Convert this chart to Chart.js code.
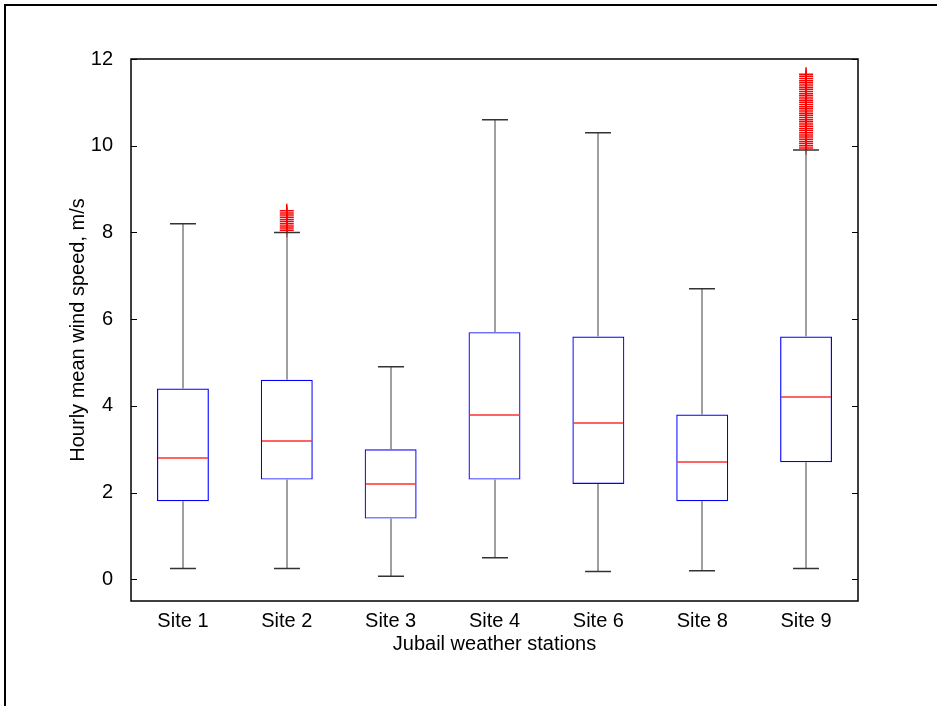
<!DOCTYPE html>
<html>
<head>
<meta charset="utf-8">
<script src="https://cdn.jsdelivr.net/npm/chart.js@4/dist/chart.umd.min.js"></script>
<style>
    body { margin: 0; background: #fff; }
    #moldura { position: absolute; left: 4px; top: 4px; width: 960px; height: 730px; border-left: 2px solid #000; border-top: 2px solid #000; pointer-events: none; }
    canvas { position: absolute; left: 0; top: 0; }
</style>
</head>
<body>
<canvas id="grafico" width="937" height="706"></canvas>
<div id="moldura"></div>
<script>
const sites = ['Site 1', 'Site 2', 'Site 3', 'Site 4', 'Site 6', 'Site 8', 'Site 9'];
const minimo = [0.25, 0.25, 0.07, 0.5, 0.18, 0.2, 0.25];
const quartil1 = [1.8, 2.3, 1.4, 2.3, 2.2, 1.8, 2.7];
const mediana = [2.8, 3.2, 2.2, 3.8, 3.6, 2.7, 4.2];
const quartil3 = [4.4, 4.6, 3.0, 5.7, 5.6, 3.8, 5.6];
const maximo = [8.2, 8.0, 4.9, 10.6, 10.3, 6.7, 9.9];
const outliersSite2 = [8.05, 8.1, 8.15, 8.2, 8.25, 8.3, 8.35, 8.4, 8.45, 8.5];
const outliersSite9 = [9.95, 10.0, 10.05, 10.1, 10.15, 10.2, 10.25, 10.3, 10.35, 10.4, 10.45, 10.5, 10.55, 10.6,
    10.65, 10.7, 10.75, 10.8, 10.85, 10.9, 10.95, 11.0, 11.05, 11.1, 11.15, 11.2, 11.25, 11.3, 11.35, 11.4, 11.45, 11.5, 11.55, 11.6, 11.65];
const yTicks = [0, 2, 4, 6, 8, 10, 12];

const pontosOutliers = []
    .concat(outliersSite2.map(v => ({ x: 'Site 2', y: v })))
    .concat(outliersSite9.map(v => ({ x: 'Site 9', y: v })));

// desenha bigodes, medianas e a moldura do eixo (estilo matlab)
const boxplotPlugin = {
    id: 'boxplot',
    afterDatasetsDraw(chart) {
        const ctx = chart.ctx;
        const y = chart.scales.y;
        const caixas = chart.getDatasetMeta(0).data;
        ctx.save();
        caixas.forEach((bar, i) => {
            const cx = Math.round(bar.x);
            const meia = bar.width / 2;
            const capa = bar.width / 4;
            ctx.strokeStyle = '#808080';
            ctx.lineWidth = 1.5;
            ctx.beginPath();
            ctx.moveTo(cx, y.getPixelForValue(quartil3[i]));
            ctx.lineTo(cx, y.getPixelForValue(maximo[i]));
            ctx.moveTo(cx, y.getPixelForValue(quartil1[i]));
            ctx.lineTo(cx, y.getPixelForValue(minimo[i]));
            ctx.stroke();

            ctx.strokeStyle = '#333';
            ctx.beginPath();
            ctx.moveTo(cx - capa, y.getPixelForValue(maximo[i]));
            ctx.lineTo(cx + capa, y.getPixelForValue(maximo[i]));
            ctx.moveTo(cx - capa, y.getPixelForValue(minimo[i]));
            ctx.lineTo(cx + capa, y.getPixelForValue(minimo[i]));
            ctx.stroke();

            ctx.strokeStyle = '#ff3030';
            ctx.lineWidth = 1.5;
            ctx.beginPath();
            const ym = Math.round(y.getPixelForValue(mediana[i]));
            ctx.moveTo(cx - meia + 1, ym);
            ctx.lineTo(cx + meia - 1, ym);
            ctx.stroke();
        });
        ctx.restore();
    },
    afterDraw(chart) {
        const ctx = chart.ctx;
        const a = chart.chartArea;
        const y = chart.scales.y;
        ctx.save();
        ctx.strokeStyle = '#000';
        ctx.lineWidth = 1.5;
        ctx.strokeRect(a.left, a.top, a.right - a.left, a.bottom - a.top);
        ctx.lineWidth = 1;
        ctx.beginPath();
        yTicks.forEach(t => {
            const py = Math.round(y.getPixelForValue(t)) + 0.5;
            ctx.moveTo(a.left, py);
            ctx.lineTo(a.left + 6, py);
            ctx.moveTo(a.right - 6, py);
            ctx.lineTo(a.right, py);
        });
        ctx.stroke();
        ctx.restore();
    }
};

const fonte = { family: 'Liberation Sans, Arial, sans-serif', size: 20 };

new Chart(document.getElementById('grafico'), {
    type: 'bar',
    data: {
        labels: sites,
        datasets: [{
            label: 'caixa',
            data: sites.map((s, i) => [quartil1[i], quartil3[i]]),
            backgroundColor: 'rgba(0,0,0,0)',
            borderColor: '#0000ff',
            borderWidth: 1.2,
            borderSkipped: false,
            categoryPercentage: 1,
            barPercentage: 0.5
        }, {
            type: 'line',
            label: 'outliers',
            data: pontosOutliers,
            showLine: false,
            pointStyle: 'cross',
            pointRadius: 7,
            pointBorderColor: '#ff0000',
            pointBorderWidth: 1.5
        }]
    },
    options: {
        responsive: false,
        animation: false,
        layout: { padding: { left: 0, top: 59, right: 79, bottom: 0 } },
        plugins: { legend: { display: false }, tooltip: { enabled: false } },
        scales: {
            x: {
                offset: true,
                grid: { display: false, drawTicks: false },
                border: { display: false },
                ticks: { color: '#000', font: fonte, padding: 8 },
                title: { display: true, text: 'Jubail weather stations', color: '#000', font: fonte, padding: { top: 0, bottom: 50 } },
                afterFit(scale) { scale.height = 105; }
            },
            y: {
                min: -0.5,
                max: 12,
                grid: { display: false, drawTicks: false },
                border: { display: false },
                ticks: { color: '#000', font: fonte, padding: 18 },
                afterBuildTicks(scale) { scale.ticks = yTicks.map(v => ({ value: v })); },
                title: { display: true, text: 'Hourly mean wind speed, m/s', color: '#000', font: fonte, padding: { top: 66, bottom: 0 } },
                afterFit(scale) { scale.width = 131; }
            }
        }
    },
    plugins: [boxplotPlugin]
});
</script>
</body>
</html>
